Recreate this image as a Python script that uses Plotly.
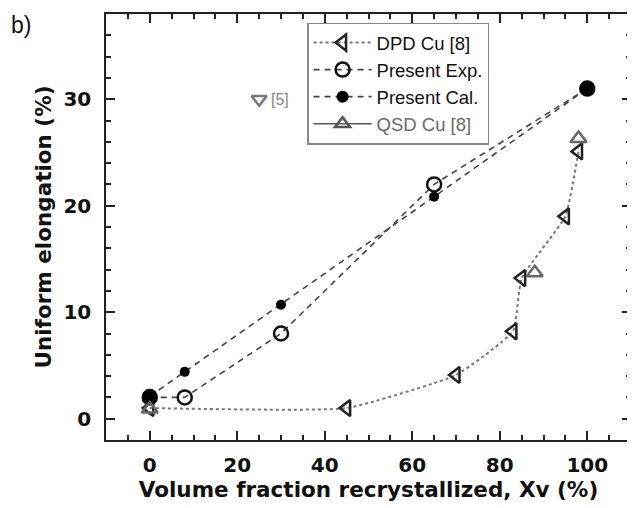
import plotly.graph_objects as go

# ---- data ----
dpd_x = [0, 45, 70, 83, 85, 95, 98]
dpd_y = [1.0, 1.0, 4.1, 8.2, 13.2, 19.0, 25.1]

exp_x = [0, 8, 30, 65, 100]
exp_y = [2.0, 2.0, 8.0, 22.0, 31.0]

cal_x = [0, 8, 30, 65, 100]
cal_y = [2.1, 4.4, 10.7, 20.85, 31.0]
cal_sizes = [15, 10, 10, 10, 15]

qsd_x = [0, 88, 98]
qsd_y = [0.9, 13.7, 26.3]

ref5_x = [25]
ref5_y = [30]
ref5_label = "[5]"

x_ticks = [0, 20, 40, 60, 80, 100]
y_ticks = [0, 10, 20, 30]

FONT = "Liberation Sans, Arial, sans-serif"
BOLD = "DejaVu Sans, Liberation Sans, sans-serif"

fig = go.Figure()

fig.add_trace(go.Scatter(
    x=dpd_x, y=dpd_y, mode="lines+markers", name="DPD Cu [8]",
    line=dict(color="#777777", width=2, dash="dot", shape="spline", smoothing=0.4),
    marker=dict(symbol="triangle-left-open", size=14, color="#222222",
                line=dict(width=2.5, color="#222222")),
))
fig.add_trace(go.Scatter(
    x=exp_x, y=exp_y, mode="lines+markers", name="Present Exp.",
    line=dict(color="#444444", width=1.6, dash="6px,5px"),
    marker=dict(symbol="circle-open", size=14, color="#111111",
                line=dict(width=2.5, color="#111111")),
))
fig.add_trace(go.Scatter(
    x=cal_x, y=cal_y, mode="lines+markers", name="Present Cal.",
    line=dict(color="#444444", width=1.6, dash="6px,5px"),
    marker=dict(symbol="circle", size=cal_sizes, color="#000000", opacity=1,
                line=dict(width=0, color="#000000")),
))
# legend entry for QSD (solid line sample)
fig.add_trace(go.Scatter(
    x=[None], y=[None], mode="lines+markers",
    name="<span style='color:#6a6a6a'>QSD Cu [8]</span>",
    line=dict(color="#555555", width=1.5),
    marker=dict(symbol="triangle-up-open", size=13, color="#555555",
                line=dict(width=2.5, color="#555555")),
))
fig.add_trace(go.Scatter(
    x=qsd_x, y=qsd_y, mode="markers", showlegend=False,
    marker=dict(symbol="triangle-up-open", size=14, color="#666666",
                line=dict(width=2.5, color="#666666")),
))
fig.add_trace(go.Scatter(
    x=ref5_x, y=ref5_y, mode="markers", showlegend=False,
    marker=dict(symbol="triangle-down-open", size=13, color="#777777",
                line=dict(width=2.5, color="#777777")),
))

fig.add_annotation(x=ref5_x[0], y=ref5_y[0], text=ref5_label, showarrow=False,
                   xanchor="left", yanchor="middle", xshift=10,
                   font=dict(family=FONT, size=16, color="#888888"))
fig.add_annotation(x=-0.185, y=0.974, xref="paper", yref="paper", xanchor="left", yanchor="middle",
                   text="b)", showarrow=False,
                   font=dict(family=FONT, size=23, color="#111111"))

axis_common = dict(
    showline=True, linecolor="#222222", linewidth=1.5, mirror="allticks",
    ticks="inside", ticklen=9, tickwidth=1.5, tickcolor="#222222",
    showgrid=False, zeroline=False,
    tickfont=dict(family=BOLD, size=20, color="#111111", weight="bold"),
    title_font=dict(family=BOLD, size=21.5, color="#111111", weight="bold"),
)

fig.update_xaxes(
    range=[-10, 110], tickvals=x_ticks,
    minor=dict(dtick=5, tick0=0, ticks="inside", ticklen=5, tickwidth=1.5, tickcolor="#222222"),
    title_text="Volume fraction recrystallized, Xv (%)", title_standoff=6,
    ticklabelstandoff=6,
    **axis_common,
)
fig.update_yaxes(
    range=[-2, 38], tickvals=y_ticks,
    minor=dict(dtick=2, tick0=0, ticks="inside", ticklen=5, tickwidth=1.5, tickcolor="#222222"),
    title_text="Uniform elongation (%)", title_standoff=6,
    ticklabelstandoff=9,
    **axis_common,
)

# page body has an 8px margin; size the figure so the plot lands where the reference has it
fig.update_layout(
    width=627, height=500,
    margin=dict(l=98, r=4, t=6, b=68, autoexpand=False),
    paper_bgcolor="white", plot_bgcolor="white",
    font=dict(family=FONT, color="#111111"),
    legend=dict(x=0.383, y=0.98, xanchor="left", yanchor="top",
                bordercolor="#888888", borderwidth=1.5, bgcolor="white",
                font=dict(family=FONT, size=18.5, color="#111111"),
                tracegroupgap=0, itemwidth=58),
)

fig.write_html("out.html")
